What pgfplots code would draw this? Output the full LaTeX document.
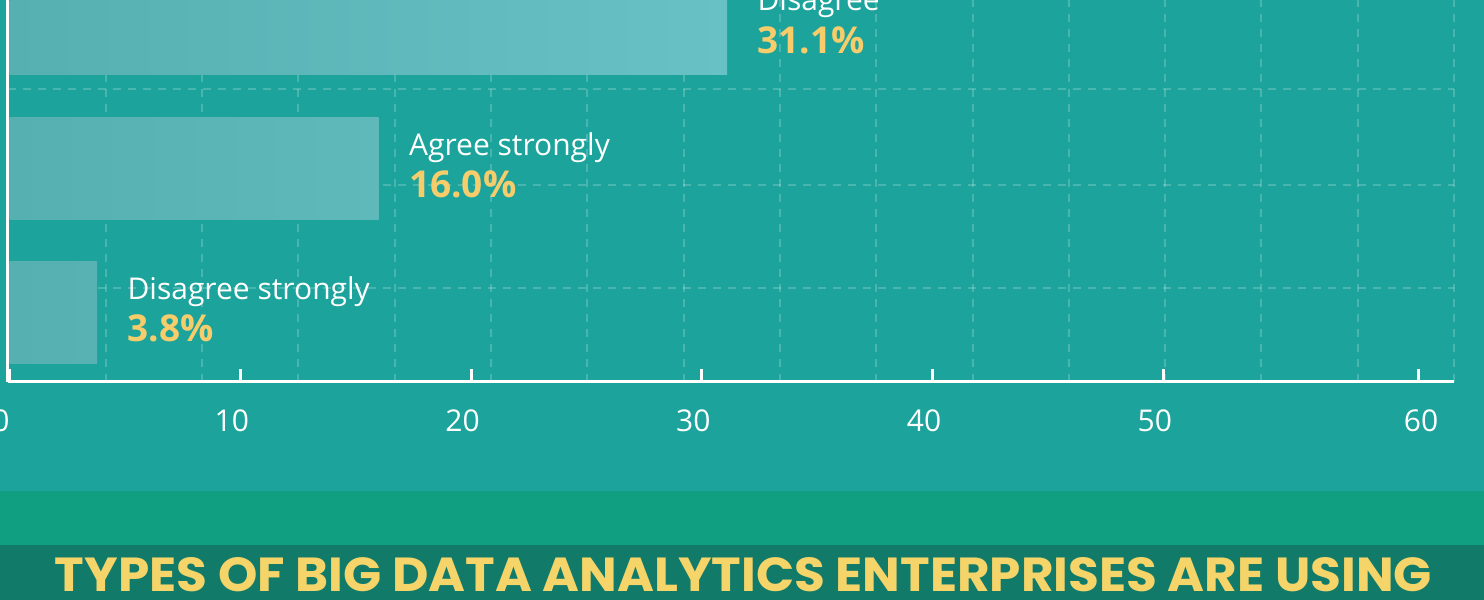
\documentclass[border=0pt]{standalone}
\usepackage{pgfplots}
\usepackage{pgfplotstable}
\usepackage{graphicx}
\usepackage{fontspec}
\pgfplotsset{compat=1.18}
\setmainfont{Open Sans}
\newfontfamily\titlefont{Poppins}
\definecolor{bgteal}{RGB}{27,163,156}
\definecolor{bandgreen}{RGB}{16,160,129}
\definecolor{banddark}{RGB}{17,122,104}
\definecolor{barL}{RGB}{86,175,176}
\definecolor{barRa}{RGB}{104,193,197}
\definecolor{barRb}{RGB}{95,184,186}
\definecolor{barRc}{RGB}{88,177,178}
\definecolor{valyellow}{RGB}{247,205,108}
\definecolor{titleyellow}{RGB}{245,212,106}

\pgfplotstableread[col sep=comma]{
pos,val,name
0,3.8,Disagree strongly
1,16.0,Agree strongly
2,31.1,Disagree
}\datatable

\begin{document}
\begin{tikzpicture}[x=0.5pt,y=0.5pt]
\useasboundingbox (0,0) rectangle (1484,600);
\clip (0,0) rectangle (1484,600);
\fill[bgteal] (0,109) rectangle (1484,600);
\fill[bandgreen] (0,55) rectangle (1484,109);
\fill[banddark] (0,0) rectangle (1484,55);
\begin{axis}[
  at={(3.95pt,109pt)}, anchor=south west,
  scale only axis, width=723.06pt, height=215pt,
  xmin=-0.07, xmax=62.6, ymin=-0.486, ymax=2.5,
  axis lines=left,
  axis line style={-, white, line width=1.5pt},
  xtick={0,10,20,30,40,50,61.04},
  xticklabels={0,10,20,30,40,50,\hspace*{11.5pt}60},
  ytick=\empty,
  tick align=inside,
  major tick length=6.5pt,
  x tick style={white, line width=1.5pt},
  /pgf/number format/assume math mode=true,
  xticklabel style={anchor=base, yshift=-25pt, xshift=-4.25pt, inner sep=0pt, text=white, font=\fontsize{15}{18}\selectfont},
  extra x ticks={4.173,8.347,12.52,16.693,20.867,25.04,29.213,33.387,37.56,41.733,45.907,50.08,54.253,58.427,62.6},
  extra x tick labels={},
  extra x tick style={grid=major, major tick length=0pt},
  extra y ticks={0.167,0.882,1.549},
  extra y tick labels={},
  extra y tick style={grid=major, major tick length=0pt},
  major grid style={white, opacity=0.2, line width=1pt, dash pattern=on 4pt off 3.5pt},
  clip=false,
]
\addplot[xbar, bar width=51pt, bar shift=0pt, draw=none, left color=barL, right color=barRc] coordinates {(3.8,0)};
\addplot[xbar, bar width=51pt, bar shift=0pt, draw=none, left color=barL, right color=barRb] coordinates {(16.0,1)};
\addplot[xbar, bar width=51pt, bar shift=0pt, draw=none, left color=barL, right color=barRa] coordinates {(31.1,2)};
\addplot[draw=none, mark=none, forget plot,
  point meta=explicit symbolic,
  nodes near coords={\pgfplotspointmeta},
  nodes near coords style={anchor=base west, xshift=15pt, yshift=6.5pt, inner sep=0pt, text=white, font=\fontsize{15}{18}\selectfont}]
  table[x=val, y=pos, meta=name] {\datatable};
\addplot[draw=none, mark=none, forget plot,
  point meta=x,
  nodes near coords={\pgfmathprintnumber[fixed,fixed zerofill,precision=1]{\pgfplotspointmeta}\%},
  nodes near coords style={anchor=base west, xshift=15pt, yshift=-14.75pt, inner sep=0pt, text=valyellow, font=\fontsize{18.5}{22}\selectfont\bfseries}]
  table[x=val, y=pos] {\datatable};
\end{axis}
\node[anchor=base, inner sep=0pt, text=titleyellow] at (743.5,9) {\resizebox{688.5pt}{17pt}{\titlefont\bfseries TYPES OF BIG DATA ANALYTICS ENTERPRISES ARE USING}};
\end{tikzpicture}
\end{document}
